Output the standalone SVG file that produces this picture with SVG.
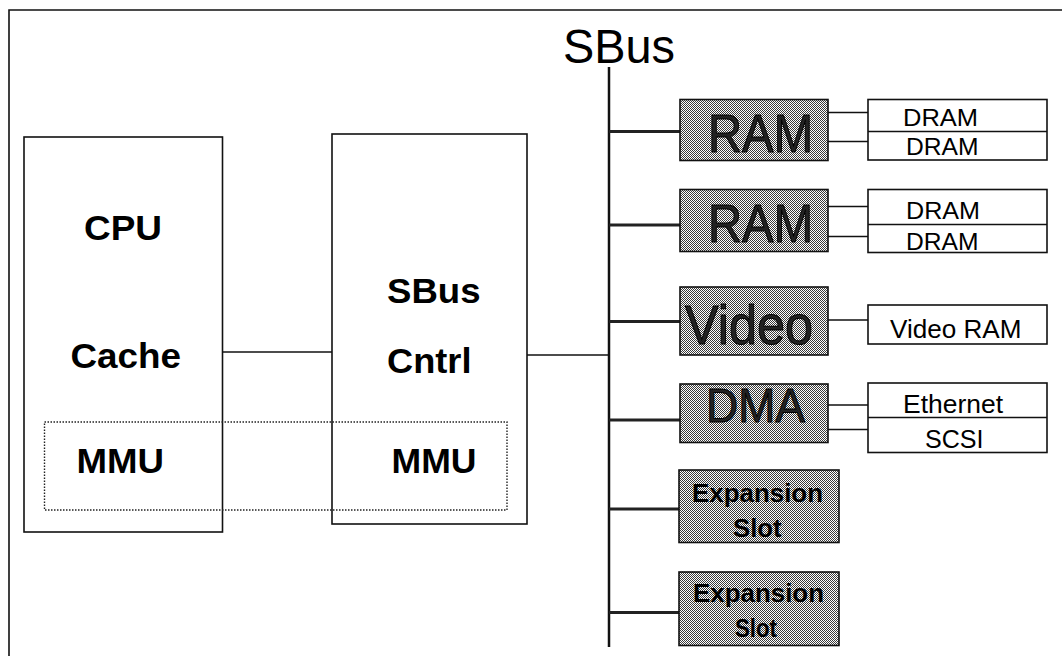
<svg xmlns="http://www.w3.org/2000/svg" width="1062" height="656" viewBox="0 0 1062 656">
<defs>
<pattern id="chk" width="2" height="2" patternUnits="userSpaceOnUse">
<rect width="2" height="2" fill="#ffffff"/>
<rect width="1" height="1" fill="#3a3a3a"/>
<rect x="1" y="1" width="1" height="1" fill="#3a3a3a"/>
</pattern>
<style>
.box{fill:#fff;stroke:#111;stroke-width:1.6}
.gbox{fill:url(#chk);stroke:#111;stroke-width:1.6}
.ln{stroke:#111;stroke-width:1.6;fill:none}
.bl{stroke:#222;stroke-width:3;fill:none}
.bold{font-family:"Liberation Sans",Arial,sans-serif;font-weight:bold;fill:#000}
.reg{font-family:"Liberation Sans",Arial,sans-serif;fill:#000}
.big{font-family:"Liberation Sans",Arial,sans-serif;fill:#222;stroke:#000;stroke-width:1}
</style>
</defs>
<rect width="1062" height="656" fill="#fff"/>
<g id="frame">
<polyline points="9,656 9,10 1062,10" class="ln" stroke-width="2"/>
</g>
<g id="connectors">
<line x1="609" y1="67" x2="609" y2="647" stroke="#111" stroke-width="2.5"/>
<line x1="222" y1="352" x2="332" y2="352" class="ln" stroke-width="2"/>
<line x1="527" y1="355" x2="609" y2="355" class="ln" stroke-width="2"/>
<line x1="609" y1="131.5" x2="680" y2="131.5" class="bl"/>
<line x1="609" y1="225" x2="680" y2="225" class="bl"/>
<line x1="609" y1="321.5" x2="680" y2="321.5" class="bl"/>
<line x1="609" y1="420" x2="680" y2="420" class="bl"/>
<line x1="609" y1="509" x2="679" y2="509" class="bl"/>
<line x1="609" y1="612.5" x2="679" y2="612.5" class="bl"/>
<line x1="828" y1="112.5" x2="868" y2="112.5" class="ln"/>
<line x1="828" y1="141.5" x2="868" y2="141.5" class="ln"/>
<line x1="828" y1="206.5" x2="868" y2="206.5" class="ln"/>
<line x1="828" y1="236.5" x2="868" y2="236.5" class="ln"/>
<line x1="828" y1="320" x2="868" y2="320" class="ln"/>
<line x1="828" y1="405" x2="868" y2="405" class="ln"/>
<line x1="828" y1="429.5" x2="868" y2="429.5" class="ln"/>
</g>
<g id="sbus-title">
<text x="563" y="63" class="reg" font-size="48" textLength="112" lengthAdjust="spacingAndGlyphs">SBus</text>
</g>
<g id="cpu">
<rect x="24" y="137" width="198.5" height="395" class="box"/>
<text x="84" y="240" class="bold" font-size="35" textLength="78" lengthAdjust="spacingAndGlyphs">CPU</text>
<text x="70.5" y="368" class="bold" font-size="35" textLength="110.5" lengthAdjust="spacingAndGlyphs">Cache</text>
<text x="76.5" y="473" class="bold" font-size="35" textLength="87.5" lengthAdjust="spacingAndGlyphs">MMU</text>
</g>
<g id="sbus-cntrl">
<rect x="332" y="134" width="195" height="390" class="box"/>
<text x="387" y="303" class="bold" font-size="35" textLength="93.5" lengthAdjust="spacingAndGlyphs">SBus</text>
<text x="387" y="373" class="bold" font-size="35" textLength="84.5" lengthAdjust="spacingAndGlyphs">Cntrl</text>
<text x="391.5" y="473" class="bold" font-size="35" textLength="85" lengthAdjust="spacingAndGlyphs">MMU</text>
</g>
<g id="mmu-group">
<rect x="44.5" y="422" width="462.5" height="88" fill="none" stroke="#222" stroke-width="1.4" stroke-dasharray="1.5 1.5"/>
</g>
<g id="ram1">
<rect x="680" y="99.5" width="148" height="61" class="gbox"/>
<text x="708" y="151.5" class="big" font-size="53" textLength="105" lengthAdjust="spacingAndGlyphs">RAM</text>
</g>
<g id="dram1">
<rect x="868" y="99.5" width="179" height="60.5" class="box"/>
<line x1="868" y1="131.5" x2="1047" y2="131.5" class="ln"/>
<text x="903" y="126" class="reg" font-size="24" textLength="75" lengthAdjust="spacingAndGlyphs">DRAM</text>
<text x="906" y="155" class="reg" font-size="24" textLength="72.5" lengthAdjust="spacingAndGlyphs">DRAM</text>
</g>
<g id="ram2">
<rect x="680" y="189.5" width="148" height="62" class="gbox"/>
<text x="708" y="241.5" class="big" font-size="53" textLength="105" lengthAdjust="spacingAndGlyphs">RAM</text>
</g>
<g id="dram2">
<rect x="868" y="189.5" width="179" height="63" class="box"/>
<line x1="868" y1="224.5" x2="1047" y2="224.5" class="ln"/>
<text x="906" y="218.5" class="reg" font-size="24" textLength="74" lengthAdjust="spacingAndGlyphs">DRAM</text>
<text x="906" y="249.5" class="reg" font-size="24" textLength="72.5" lengthAdjust="spacingAndGlyphs">DRAM</text>
</g>
<g id="video">
<rect x="680" y="287" width="148" height="68" class="gbox"/>
<text x="685" y="344" class="big" font-size="56" textLength="128" lengthAdjust="spacingAndGlyphs">Video</text>
</g>
<g id="video-ram">
<rect x="868" y="305" width="179" height="39" class="box"/>
<text x="890" y="338" class="reg" font-size="25" textLength="131.5" lengthAdjust="spacingAndGlyphs">Video RAM</text>
</g>
<g id="dma">
<rect x="680" y="384" width="148" height="58.5" class="gbox"/>
<text x="706" y="421.5" class="big" font-size="48" textLength="99" lengthAdjust="spacingAndGlyphs">DMA</text>
</g>
<g id="eth-scsi">
<rect x="868" y="383" width="179" height="69.5" class="box"/>
<line x1="868" y1="417.5" x2="1047" y2="417.5" class="ln"/>
<text x="903" y="413" class="reg" font-size="25" textLength="100" lengthAdjust="spacingAndGlyphs">Ethernet</text>
<text x="925" y="448" class="reg" font-size="25" textLength="58.5" lengthAdjust="spacingAndGlyphs">SCSI</text>
</g>
<g id="exp1">
<rect x="679" y="470" width="160" height="72.5" class="gbox"/>
<text x="692" y="501.5" class="bold" font-size="25" fill="#111" textLength="131" lengthAdjust="spacingAndGlyphs">Expansion</text>
<text x="733" y="537" class="bold" font-size="25" fill="#111" textLength="48.5" lengthAdjust="spacingAndGlyphs">Slot</text>
</g>
<g id="exp2">
<rect x="679" y="572" width="160" height="73.5" class="gbox"/>
<text x="693" y="601.5" class="bold" font-size="25" fill="#111" textLength="131" lengthAdjust="spacingAndGlyphs">Expansion</text>
<text x="735" y="636.5" class="bold" font-size="25" fill="#111" textLength="42" lengthAdjust="spacingAndGlyphs">Slot</text>
</g>
</svg>
